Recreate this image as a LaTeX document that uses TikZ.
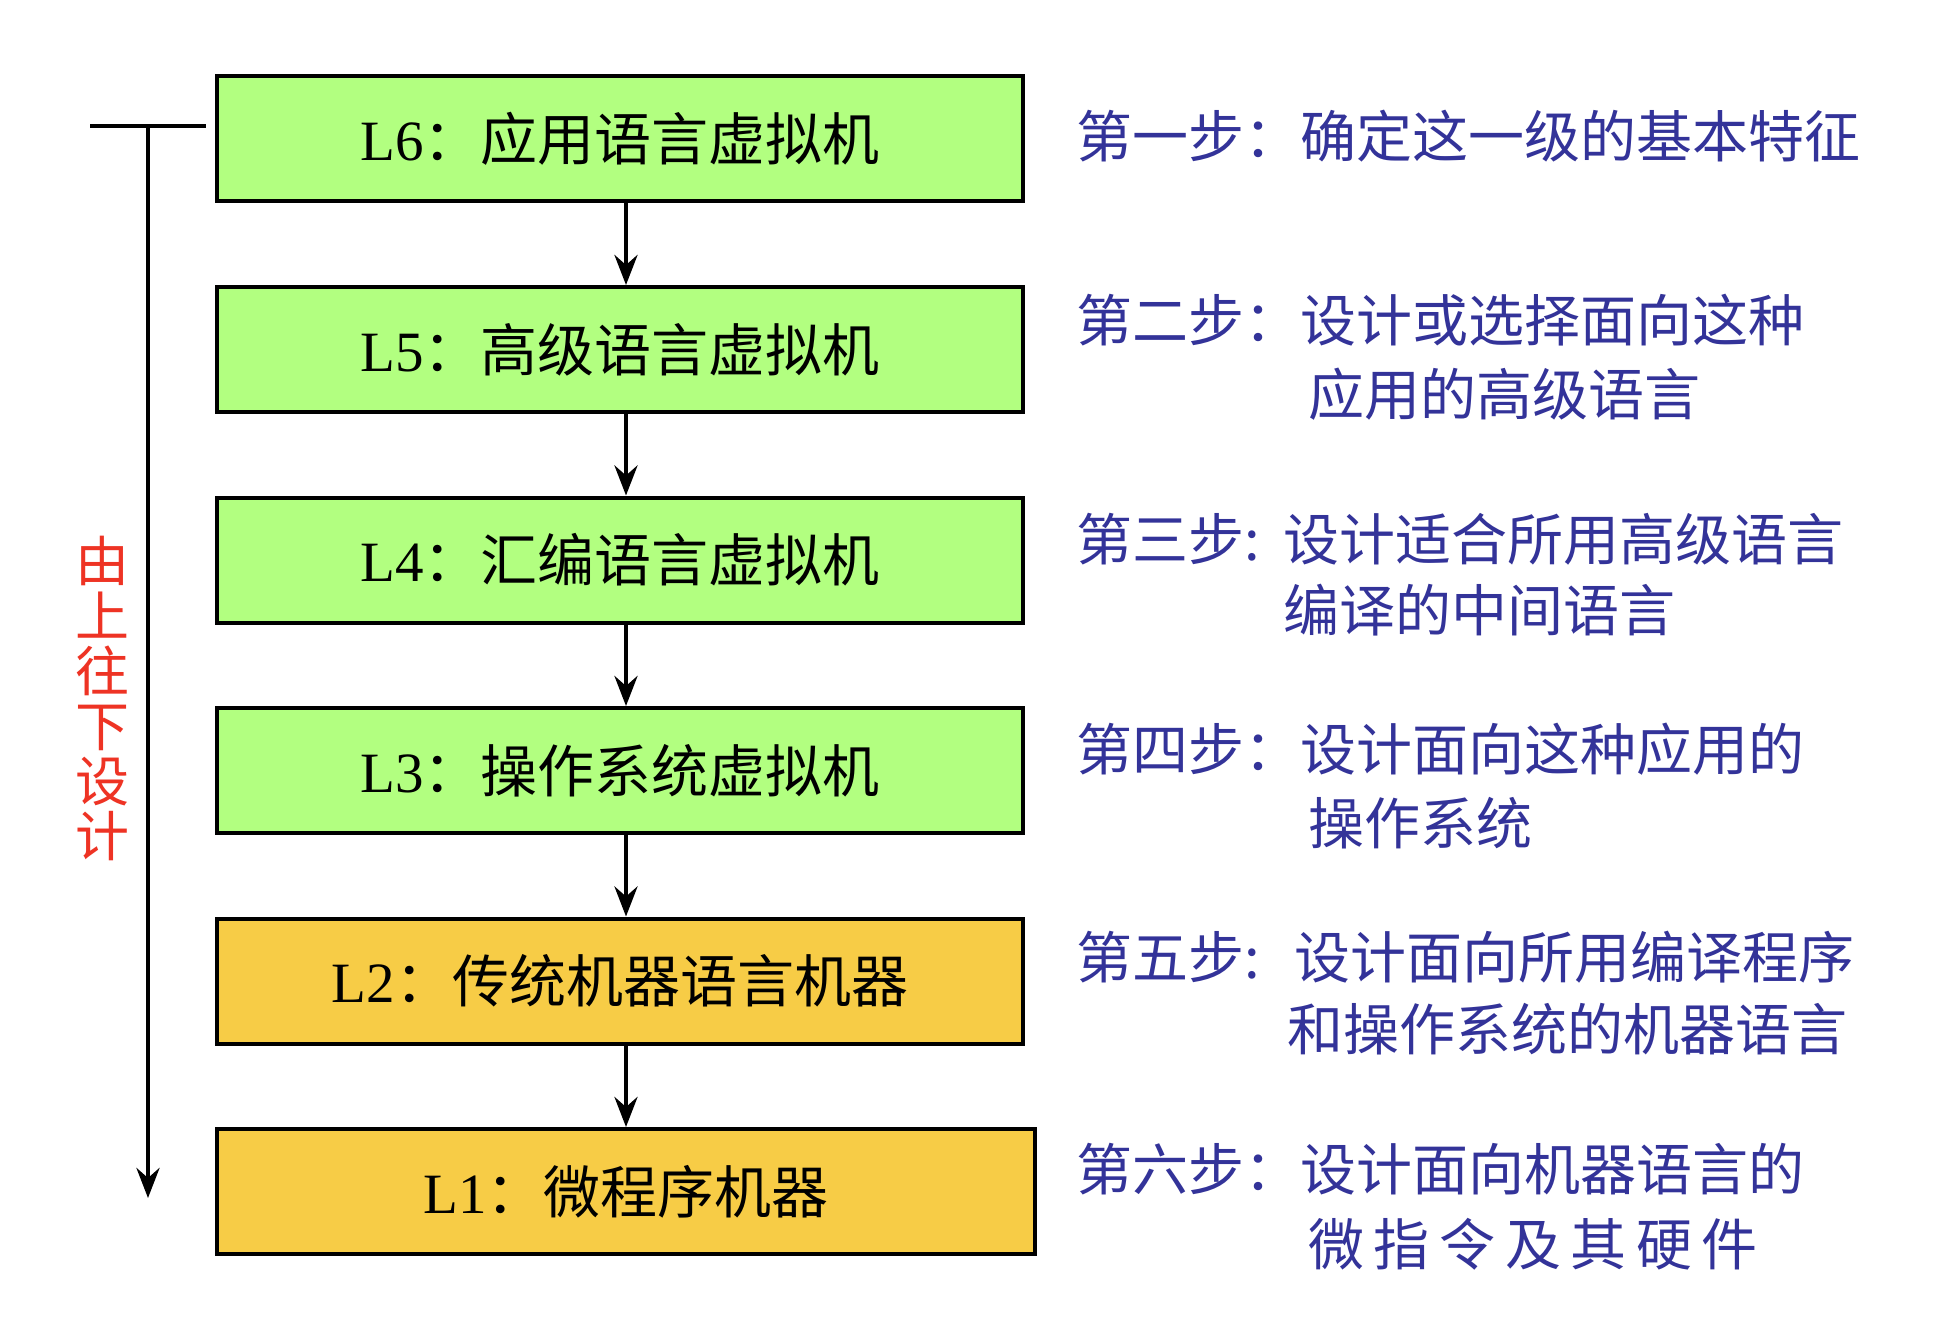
\documentclass[tikz,border=0pt]{standalone}
\usepackage{fontspec}
\setmainfont{Liberation Serif}
\newfontfamily\cjk{Noto Sans CJK SC}
\usetikzlibrary{arrows.meta}
\definecolor{lvgreen}{RGB}{178,255,128}
\definecolor{lvyellow}{RGB}{247,204,70}
\definecolor{stepblue}{RGB}{51,51,153}
\definecolor{topred}{RGB}{238,51,36}
\begin{document}
\begin{tikzpicture}[x=0.5pt,y=-0.5pt,
  lvbox/.style={draw=black, line width=2pt, minimum width=403pt, minimum height=62.5pt, inner sep=0pt, font=\fontsize{28.5pt}{34pt}\selectfont},
  greenbox/.style={lvbox, fill=lvgreen},
  yellowbox/.style={lvbox, fill=lvyellow},
  steptext/.style={anchor=west, inner sep=0pt, text height=24.6pt, text depth=3.4pt, text=stepblue, font=\cjk\fontsize{28pt}{34pt}\selectfont},
  flow/.style={line width=2.3pt, -{Stealth[length=15pt,width=11.5pt,inset=5pt]}},
  bar/.style={line width=2.3pt}]
\fill[white] (0,0) rectangle (1944,1332);
\useasboundingbox (0,0) rectangle (1944,1332);

% level boxes
\node[greenbox] (L6) at (620,139) {L6{\cjk ：应用语言虚拟机}};
\node[greenbox] (L5) at (620,349.5) {L5{\cjk ：高级语言虚拟机}};
\node[greenbox] (L4) at (620,560) {L4{\cjk ：汇编语言虚拟机}};
\node[greenbox] (L3) at (620,770.5) {L3{\cjk ：操作系统虚拟机}};
\node[yellowbox] (L2) at (620,981) {L2{\cjk ：传统机器语言机器}};
\node[yellowbox, minimum width=409pt] (L1) at (626,1191.5) {L1{\cjk ：微程序机器}};

% arrows between boxes
\draw[flow] (L6.south -| L1.center) -- (L5.north -| L1.center);
\draw[flow] (L5.south -| L1.center) -- (L4.north -| L1.center);
\draw[flow] (L4.south -| L1.center) -- (L3.north -| L1.center);
\draw[flow] (L3.south -| L1.center) -- (L2.north -| L1.center);
\draw[flow] (L2.south -| L1.center) -- (L1.north -| L1.center);

% top-down bar
\coordinate (barl) at (90,126);
\coordinate (barr) at (206,126);
\coordinate (bartop) at (148,126);
\coordinate (barbot) at (148,1198);
\draw[bar] (barl) -- (barr);
\draw[flow] (bartop) -- (barbot);
\node[align=center, inner sep=0pt, text=topred, font=\cjk\fontsize{27pt}{27.5pt}\selectfont] (topdown) at (102,698) {由\\上\\往\\下\\设\\计};

% steps
\node[steptext] (s1) at (1076,136) {第一步：确定这一级的基本特征};

\node[steptext] (s2) at (1076,320) {第二步：设计或选择面向这种};
\node[steptext] (s2b) at (1308,394) {应用的高级语言};

\node[steptext] (s3) at (1076,539) {第三步:};
\node[steptext] (s3a) at (1283,539) {设计适合所用高级语言};
\node[steptext] (s3b) at (1283,610) {编译的中间语言};

\node[steptext] (s4) at (1076,749) {第四步：设计面向这种应用的};
\node[steptext] (s4b) at (1308,823) {操作系统};

\node[steptext] (s5) at (1076,957) {第五步:};
\node[steptext] (s5a) at (1294,957) {设计面向所用编译程序};
\node[steptext] (s5b) at (1287,1029) {和操作系统的机器语言};

\node[steptext] (s6) at (1076,1169) {第六步：设计面向机器语言的};
\node[steptext] (s6b) at (1308,1244) {微\hspace{4.8pt}指\hspace{4.8pt}令\hspace{4.8pt}及\hspace{4.8pt}其\hspace{4.8pt}硬\hspace{4.8pt}件};
\end{tikzpicture}
\end{document}
